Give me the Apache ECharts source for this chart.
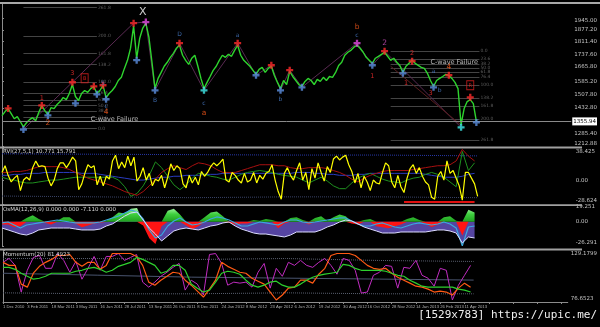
<!DOCTYPE html>
<html><head><meta charset="utf-8">
<script src="https://cdn.jsdelivr.net/npm/echarts@6/dist/echarts.min.js"></script>
<style>html,body{margin:0;padding:0;background:#000}#c{width:600px;height:327px}</style>
</head><body><div id="c"></div>
<script>
// ---------- DATA ----------
const dateLabels = ["1 Dec 2010","3 Feb 2011","18 Mar 2011","3 May 2011","16 Jun 2011","28 Jul 2011","13 Sep 2011","26 Oct 2011","8 Dec 2011","24 Jan 2012","8 Mar 2012","23 Apr 2012","6 Jun 2012","19 Jul 2012","30 Aug 2012","16 Oct 2012","28 Nov 2012","14 Jan 2013","26 Feb 2013","11 Apr 2013"];
const priceTicks = [1945.00,1877.20,1811.40,1737.60,1665.80,1585.20,1507.80,1432.80,1285.40,1212.88];
const rviTicks = [38.425,0,-28.624];
const osmaTicks = [19.251,0,-26.291];
const momTicks = [129.1799,76.6523];
const bidPrice = 1355.94;

const price = [1389,1412,1429,1400,1371,1383,1354,1325,1348,1366,
1377,1360,1406,1446,1417,1394,1434,1429,1452,1469,
1492,1480,1515,1566,1498,1475,1515,1532,1521,1543,
1555,1515,1532,1561,1492,1515,1532,1555,1589,1607,
1658,1704,1773,1899,1716,1830,1888,1916,1836,1693,
1543,1601,1635,1670,1693,1721,1744,1773,1790,1733,
1704,1681,1716,1733,1670,1601,1543,1578,1612,1647,
1670,1704,1733,1721,1738,1727,1761,1790,1733,1704,
1687,1670,1647,1624,1652,1664,1635,1658,1670,1618,
1578,1543,1589,1566,1641,1612,1589,1566,1555,1584,
1601,1589,1566,1595,1584,1607,1589,1612,1607,1635,
1675,1693,1733,1750,1761,1779,1790,1773,1750,1721,
1704,1687,1716,1727,1738,1750,1727,1704,1716,1693,
1675,1635,1670,1687,1704,1687,1675,1664,1658,1630,
1589,1555,1589,1601,1612,1624,1618,1601,1578,1543,
1337,1429,1469,1480,1457,1356];

const redCross = [[2,1430],[13,1447],[23,1579],[30,1556],[33,1562],[43,1916],[58,1802],[77,1802],[88,1676],[94,1648],[125,1756],[134,1699],[146,1619],[153,1493]];
const blueCross = [[7,1310],[15,1390],[24,1459],[31,1510],[34,1482],[44,1705],[50,1533],[83,1619],[91,1533],[98,1550],[121,1676],[131,1630],[141,1550],[155,1350]];
const cyanCross = [[66,1533],[150,1322]];
const magentaCross = [[47,1922],[116,1802]];

const labelsWhite = [[46,1979,'X']];
const labelsRed = [[13,1487,'1'],[23,1630,'3'],[121,1613,'1'],[134,1745,'2'],[132,1573,'1'],[140,1516,'3']];
const labelsOrange = [[15,1344,'2'],[34,1407,'4'],[66,1402,'a'],[116,1893,'b'],[146,1665,'4']];
const labelsBlue = [[33,1573,'5'],[34,1442,'c'],[50,1476,'B'],[58,1853,'D'],[66,1459,'c'],[77,1848,'a'],[91,1482,'b'],[116,1848,'c'],[141,1642,'a'],[143,1533,'b']];
const labelsMagenta = [[125,1802,'2']];
const cwaveNotes = [[29,1369,'C-wave Failure'],[140,1693,'C-wave Failure']];
const redBoxes = [[27,1602,'B'],[153,1562,'R']];

const fibRatios = [0,23.6,38.2,50,61.8,76.4,100,138.2,161.8,200,261.8];
const fibLeft = {from:7, to:31, p0:1316, p100:1579};
const fibRight = {from:127, to:156, p0:1756, p100:1562};
const zigzag = [[7,1310],[43,1916],[47,1922],[50,1533],[58,1802],[66,1533],[77,1802],[83,1619],[88,1676],[91,1533],[94,1648],[98,1550],[116,1802],[121,1676],[125,1756],[150,1322]];
const channel = [[127,1670],[150,1335]];

const rviYellow = [9.5,17.6,6.0,-2.0,2.6,6.0,-12.4,0.3,3.7,0.3,
15.3,23.4,16.5,17.6,16.5,2.6,-6.7,0.3,14.1,21.1,
21.1,15.3,21.1,28.0,23.4,-11.3,-4.3,8.4,18.8,15.3,
17.6,-5.5,4.9,-6.7,4.9,1.4,23.4,30.3,14.1,22.2,
15.3,29.2,17.6,28.0,-0.9,4.9,15.3,0.3,8.4,-6.7,
1.4,-0.9,6.0,-9.0,3.7,19.9,11.8,17.6,14.1,-4.3,
-9.0,6.0,-3.2,3.7,-5.5,10.7,4.9,9.5,16.5,21.1,
17.6,21.1,25.7,0.3,-2.0,9.5,6.0,0.3,-3.2,8.4,
-2.0,0.3,9.5,-3.2,6.0,1.4,8.4,10.7,18.8,0.3,
-13.6,-22.8,8.4,15.3,6.0,0.3,11.8,21.1,0.3,9.5,
-11.3,14.1,2.6,21.1,9.5,-0.9,16.5,9.5,25.7,29.2,
24.6,28.0,30.3,18.8,10.7,-3.2,8.4,-9.0,4.9,-2.0,
-12.4,0.3,-3.2,-4.3,9.5,21.1,17.6,-2.0,-9.0,6.0,
-7.8,-14.8,2.6,14.1,18.8,8.4,15.3,4.9,-2.0,-5.5,
-20.5,-22.8,4.9,10.7,0.3,23.4,8.4,11.8,2.6,-6.7,
-24.0,9.5,9.5,2.6,-4.3,-19.4];
const rviRed = [9.5,9.5,10.7,10.7,11.8,14.1,16.5,16.5,16.5,16.5,
15.3,13.0,9.5,6.0,2.6,0.3,-2.0,-4.3,-6.7,-10.1,
-13.6,-15.9,-18.2,-13.6,-6.7,1.4,9.5,14.1,17.6,15.3,
13.0,17.6,21.1,19.9,17.6,13.0,9.5,9.5,9.5,11.8,
14.1,16.5,18.8,18.8,18.8,17.6,17.6,15.3,14.1,14.1,
15.3,15.3,15.3,14.1,11.8,9.5,6.0,1.4,-2.0,2.6,
6.0,8.4,10.7,11.8,11.8,11.8,11.8,13.0,14.1,15.3,
16.5,17.6,17.6,18.8,23.4,37.3,29.2,23.4];
const rviGreen = [3.7,1.4,0.3,-2.0,-3.2,-3.2,-2.0,-0.9,0.3,0.3,
1.4,2.6,3.7,3.7,3.7,3.7,3.7,3.7,3.7,0.3,
-7.8,-19.4,-15.9,-6.7,6.0,22.2,15.3,4.9,-5.5,-11.3,
-5.5,2.6,8.4,7.2,4.9,3.7,1.4,0.3,3.7,7.2,
9.5,10.7,11.8,10.7,9.5,7.2,6.0,4.9,3.7,0.3,
-3.2,0.3,3.7,-0.9,-6.7,-10.1,-10.1,-3.2,2.6,6.0,
8.4,4.9,1.4,-0.9,-2.0,-3.2,0.3,2.6,3.7,7.2,
9.5,7.2,3.7,-2.0,-7.8,34.9,11.8,21.1];
const rviBlue = [6.0,6.0,7.2,7.2,8.4,8.4,8.4,9.5,9.5,9.5,
9.5,9.5,9.5,8.4,8.4,8.4,7.2,6.0,4.9,3.7,
2.6,1.4,0.3,0.3,1.4,2.6,3.7,3.7,4.9,4.9,
6.0,6.0,6.0,7.2,7.2,7.2,8.4,8.4,8.4,8.4,
8.4,8.4,8.4,8.4,8.4,8.4,8.4,8.4,9.5,9.5,
9.5,8.4,8.4,7.2,7.2,6.0,6.0,6.0,7.2,7.2,
8.4,8.4,8.4,8.4,8.4,8.4,8.4,8.4,8.4,7.2,
6.0,4.9,3.7,3.7,3.7,4.9,7.2,8.4];
const rviUpperBand = [32,31.5,31,30.5,30.5,29.5];
const rviLowerBand = [-19,-20,-21,-20,-20,-21];
const rviFloorBars = [131,154];
const rviFloorValue = -26.3;

const osmaHist = [-3,-3,-6,-5,4,7,3,-1,-3,1,
5,5,-2,-6,-4,-2,-1,1,5,10,
9,14,15,-4,-18,-24,-5,12,14,8,
-4,-8,-5,5,10,11,6,-1,-3,-2,
-2,2,1,3,2,-7,-2,4,5,2,
-3,4,6,1,5,8,6,-2,-3,2,
3,-5,-6,-7,-5,-3,3,5,2,-2,
-6,-3,5,6,1,-15,13,10];
const osmaCyan = [-1.3,-0.3,-3.5,-6.8,-3.5,-2.4,-1.3,-0.3,0.8,1.9,
0.8,-0.3,-1.3,-1.3,-1.3,-1.3,-0.3,1.9,4.1,6.2,
9.5,12.7,10.6,3.0,-8.9,-17.6,-14.4,-4.6,0.8,4.1,
-0.3,-3.5,-2.4,-0.3,3.0,5.2,4.1,1.9,-1.3,-4.6,
-4.6,-2.4,-0.3,-1.3,-2.4,-3.5,-0.3,1.9,1.9,-0.3,
-1.3,-0.3,0.8,1.9,3.0,4.1,4.1,0.8,-2.4,-4.6,
-4.6,-2.4,-1.3,-3.5,-5.7,-6.8,-4.6,-2.4,-1.3,-2.4,
-3.5,-2.4,-0.3,-2.4,-6.8,-26.0,-5.7,-4.6];
const osmaWhite = [-6.8,-8.9,-11.1,-13.3,-14.4,-12.2,-8.9,-7.9,-6.8,-6.8,
-6.8,-6.8,-7.9,-8.9,-8.9,-8.9,-7.9,-4.6,-2.4,1.9,
6.2,9.5,10.6,1.9,-6.8,-13.3,-20.9,-15.4,-10.0,-7.9,
-6.8,-7.9,-8.9,-6.8,-4.6,-3.5,-1.3,-0.3,-4.6,-7.9,
-10.0,-12.2,-13.3,-13.3,-14.4,-15.4,-16.5,-14.4,-11.1,-11.1,
-11.1,-11.1,-8.9,-5.7,-3.5,-0.3,1.9,0.8,-2.4,-5.7,
-7.9,-10.0,-12.2,-12.2,-12.2,-11.1,-11.1,-11.1,-11.1,-11.1,
-10.0,-8.9,-8.9,-10.0,-12.2,-23.0,-16.5,-17.6];

const momMagenta = [117.1,121.1,114.0,86.8,109.0,122.1,124.1,111.0,111.0,126.1,
119.1,107.0,118.1,99.9,111.0,123.1,109.0,123.1,123.1,126.1,
119.1,122.1,125.1,96.9,91.8,96.9,102.9,107.0,112.0,116.0,
88.8,98.9,94.9,83.8,125.1,126.1,116.0,93.8,96.9,95.9,
96.9,91.8,107.0,116.0,90.8,111.0,102.9,117.1,114.0,119.1,
114.0,112.0,117.1,121.1,114.0,105.0,121.1,119.1,109.0,85.8,
86.8,103.9,107.0,114.0,113.0,90.8,112.0,111.0,119.1,103.9,
100.9,92.8,111.0,109.0,78.7,93.8,103.9,114.0];
const momOrange = [117.1,114.0,114.0,94.9,91.8,106.0,113.0,117.1,120.1,124.1,
124.1,125.1,117.1,113.0,117.1,117.1,110.0,114.0,126.1,126.1,
126.1,126.1,123.1,114.0,96.9,93.8,98.9,102.9,107.0,106.0,
98.9,93.8,87.8,81.7,89.8,98.9,117.1,113.0,110.0,107.0,
106.0,100.9,97.9,94.9,86.8,78.7,83.8,90.8,91.8,98.9,
98.9,95.9,105.0,111.0,124.1,126.1,126.1,126.1,124.1,119.1,
114.0,111.0,110.0,111.0,106.0,101.9,98.9,95.9,92.8,91.8,
89.8,86.8,87.8,86.8,83.8,90.8,95.9,91.8];
const momGreen = [112.0,112.0,110.0,106.0,102.9,99.9,100.9,102.9,106.0,106.0,
106.0,106.0,108.0,109.0,111.0,112.0,110.0,107.0,109.0,113.0,
115.0,117.1,122.1,120.1,117.1,114.0,106.0,108.0,114.0,114.0,
109.0,94.9,90.8,86.8,88.8,96.9,106.0,108.0,107.0,105.0,
98.9,93.8,91.8,93.8,96.9,97.9,93.8,91.8,91.8,94.9,
98.9,101.9,103.9,105.0,106.0,107.0,115.0,114.0,111.0,109.0,
109.0,109.0,109.0,108.0,106.0,103.9,102.9,98.9,95.9,92.8,
91.8,91.8,91.8,91.8,91.8,89.8,88.8,86.8];
const momUpperBand = [121,121,120,121,119,118];
const momMidLine = [106,104,102,101,100,99];
const momLowerBand = [86,85,85,86,85,85];

const titles = ['RVI(27,5,1) 10.771 15.791','OsMA(12,26,9) 0.000 0.000 -7.110 0.000','Momentum(20) 81.4923'];
const watermark = '[1529x783] https://upic.me/';

// ---------- CHART ----------
const FONT = 'DejaVu Sans';
const TOTAL_BARS = 186, LABEL_EVERY = 8;
function xy(arr, step, start){ start = start || 0; return arr.map((v,i)=>[start+i*step, v]); }
const gridDefs = [
  {left:2,right:18,top:4,height:142.5},
  {left:2,right:18,top:148.5,height:55.5},
  {left:2,right:18,top:204,height:42},
  {left:2,right:18,top:250.5,height:51.5}
];
const axisCol = '#8c8c8c', lblCol = '#c4c4c4';
const xAxes = gridDefs.map((g,i)=>({
  type:'value', gridIndex:i, min:0, max:TOTAL_BARS, interval:LABEL_EVERY, show: i===3,
  axisLine:{show:true,lineStyle:{color:axisCol}},
  axisTick:{show:true,length:2,lineStyle:{color:axisCol}},
  splitLine:{show:false},
  axisLabel:{color:'#b0b0b0',fontSize:4.2,fontFamily:'Liberation Sans',align:'left',margin:3,
    showMinLabel:true, showMaxLabel:false, hideOverlap:false, interval:0,
    formatter:v=>dateLabels[v/LABEL_EVERY]||''}
}));
function yAx(i,min,max,ticks,fmt){
  return {type:'value',gridIndex:i,position:'right',min:min,max:max,
    axisLine:{show:true,lineStyle:{color:axisCol}},
    axisTick:{show:true,length:2,customValues:ticks,lineStyle:{color:axisCol}},
    splitLine:{show:false},
    axisLabel:{customValues:ticks,color:lblCol,fontSize:5.5,fontFamily:FONT,margin:3,formatter:fmt,
      verticalAlignMaxLabel:'bottom',verticalAlignMinLabel:'top'}};
}
const numFmt = v => v===0 ? '0.00' : String(v);
const yAxes = [
  yAx(0,1212.88,2025,priceTicks,v=>v.toFixed(2)),
  yAx(1,-28.624,38.425,rviTicks,numFmt),
  yAx(2,-26.291,19.251,osmaTicks,numFmt),
  yAx(3,76.6523,129.1799,momTicks,numFmt)
];
const CROSS = 'path://M2,0H4V2H6V4H4V6H2V4H0V2H2Z';
function crossSeries(data,color){
  return {type:'scatter',xAxisIndex:0,yAxisIndex:0,data:data,symbol:CROSS,symbolSize:7,
    itemStyle:{color:color},z:6,silent:true};
}
function textSeries(data,color,size){
  return {type:'scatter',xAxisIndex:0,yAxisIndex:0,symbolSize:0,z:7,silent:true,
    data:data.map(d=>({value:[d[0],d[1]],name:d[2]})),
    label:{show:true,position:'inside',formatter:'{b}',color:color,fontSize:size,fontFamily:FONT}};
}
function fibSeries(f){
  return {type:'lines',coordinateSystem:'cartesian2d',xAxisIndex:0,yAxisIndex:0,z:2,silent:true,
    lineStyle:{color:'#444444',width:1,opacity:1},
    label:{show:true,position:'end',formatter:'{b}',color:'#5c5c5c',fontSize:4.5,fontFamily:FONT,distance:1},
    data:fibRatios.map(r=>{const p=f.p0+(f.p100-f.p0)*r/100;return {name:r.toFixed(1),coords:[[f.from,p],[f.to,p]]};})};
}
function lineS(gi,data,color,width,extra){
  return Object.assign({type:'line',xAxisIndex:gi,yAxisIndex:gi,data:data,showSymbol:false,symbol:'none',
    lineStyle:{color:color,width:width},silent:true,z:3},extra||{});
}
const histPos = osmaHist.map(v=>Math.max(v,0));
const histNeg = osmaHist.map(v=>Math.min(v,0));

const series = [
  fibSeries(fibLeft), fibSeries(fibRight),
  lineS(0,zigzag,'#5a2a52',1,{z:2}),
  lineS(0,channel,'#5a1f1f',1,{z:2}),
  lineS(0,xy(price,1),'#2ed42e',1.4,{z:4,
    markLine:{silent:true,symbol:'none',data:[{yAxis:bidPrice}],
      lineStyle:{color:'#8a8a8a',width:1,type:'solid'},
      label:{show:true,position:'end',formatter:bidPrice.toFixed(2),backgroundColor:'#ffffff',
        color:'#000',fontSize:5.5,fontFamily:FONT,padding:[1,1],distance:1}}}),
  crossSeries(redCross,'#ff2a2a'),
  crossSeries(blueCross,'#5b8ee0'),
  crossSeries(cyanCross,'#40e8e8'),
  crossSeries(magentaCross,'#e048e0'),
  textSeries(labelsWhite,'#ffffff',11),
  textSeries(labelsRed,'#ff3030',6.5),
  textSeries(labelsOrange,'#ff5a1a',7.5),
  textSeries(labelsBlue,'#4a7fd0',6),
  textSeries(labelsMagenta,'#d050c0',7.5),
  {type:'scatter',xAxisIndex:0,yAxisIndex:0,symbolSize:0,z:7,silent:true,
    data:cwaveNotes.map(d=>({value:[d[0],d[1]],name:d[2]})),
    label:{show:true,position:'right',distance:0,formatter:'{b}',color:'#e0e0e0',fontSize:6.5,fontFamily:FONT}},
  {type:'scatter',xAxisIndex:0,yAxisIndex:0,symbol:'rect',symbolSize:[7,9],z:7,silent:true,
    data:redBoxes.map(d=>({value:[d[0],d[1]],name:d[2]})),
    itemStyle:{color:'rgba(0,0,0,0)',borderColor:'#e02020',borderWidth:1},
    label:{show:true,position:'inside',formatter:'{b}',color:'#ff2020',fontSize:5,fontFamily:FONT}},
  lineS(1,xy(rviUpperBand,31),'#2838a8',1,{lineStyle:{color:'#2838a8',width:1,type:'dotted'},z:2}),
  lineS(1,xy(rviLowerBand,31),'#3a4468',1,{lineStyle:{color:'#3a4468',width:1,type:'dotted'},z:2}),
  lineS(1,xy(rviBlue,2),'#2a3cc0',1),
  lineS(1,xy(rviGreen,2),'#1f901f',1),
  lineS(1,xy(rviRed,2),'#a81010',1),
  lineS(1,xy(rviYellow,1),'#ffff00',1.2,{z:4}),
  {type:'lines',coordinateSystem:'cartesian2d',xAxisIndex:1,yAxisIndex:1,silent:true,z:5,
    lineStyle:{color:'#e01010',width:2,opacity:1},
    data:[{coords:[[rviFloorBars[0],rviFloorValue],[rviFloorBars[1],rviFloorValue]]}]},
  lineS(2,xy(osmaWhite,2),'#5b48a8',0,{z:1,lineStyle:{width:0,opacity:0},areaStyle:{color:'#5a48aa',opacity:0.95,origin:0}}),
  lineS(2,xy(histPos,2),'#33c833',0,{z:2,lineStyle:{width:0,opacity:0},
    areaStyle:{origin:0,opacity:1,color:new echarts.graphic.LinearGradient(0,0,0,1,[{offset:0,color:'#a8f5a8'},{offset:0.45,color:'#3fd03f'},{offset:1,color:'#1f9f1f'}])}}),
  lineS(2,xy(histNeg,2),'#ff1a1a',0,{z:2,lineStyle:{width:0,opacity:0},areaStyle:{color:'#ff1414',opacity:1,origin:0}}),
  lineS(2,xy(osmaCyan,2),'#3aa8e0',1.2,{z:4}),
  lineS(2,xy(osmaWhite,2),'#dcdcff',1,{z:5}),
  lineS(3,xy(momUpperBand,31),'#5a6070',1,{lineStyle:{color:'#5a6070',width:1,type:'dotted'},z:2}),
  lineS(3,xy(momMidLine,31),'#4a5570',1,{z:2}),
  lineS(3,xy(momLowerBand,31),'#5a6070',1,{lineStyle:{color:'#5a6070',width:1,type:'dotted'},z:2}),
  lineS(3,xy(momMagenta,2),'#c02cc0',1),
  lineS(3,xy(momOrange,2),'#ff5a14',1.2,{z:4}),
  lineS(3,xy(momGreen,2),'#2ed02e',1.2,{z:5})
];

const titleTops = [149,207,251.5];
const option = {
  backgroundColor:'#000000', animation:false,
  title: titles.map((t,i)=>({text:t,left:3,top:titleTops[i],padding:0,
    textStyle:{color:'#d8d8d8',fontSize:5.5,fontWeight:'normal',fontFamily:FONT}})),
  grid: gridDefs, xAxis: xAxes, yAxis: yAxes, series: series,
  graphic: [
    {type:'rect',shape:{x:0,y:2,width:600,height:2},style:{fill:'#a8a8a8'},z:10,silent:true},
    {type:'rect',shape:{x:0,y:146.6,width:582,height:1.8},style:{fill:'#a0a0a0'},z:10,silent:true},
    {type:'rect',shape:{x:0,y:204.2,width:582,height:1.8},style:{fill:'#a0a0a0'},z:10,silent:true},
    {type:'rect',shape:{x:0,y:248.6,width:582,height:1.8},style:{fill:'#a0a0a0'},z:10,silent:true},
    {type:'text',right:3,top:310,z:10,silent:true,
      style:{text:watermark,fill:'#f0f0f0',font:'11px "DejaVu Sans Mono"'}}
  ]
};
const chart = echarts.init(document.getElementById('c'),null,{renderer:'canvas'});
chart.setOption(option);
</script></body></html>
